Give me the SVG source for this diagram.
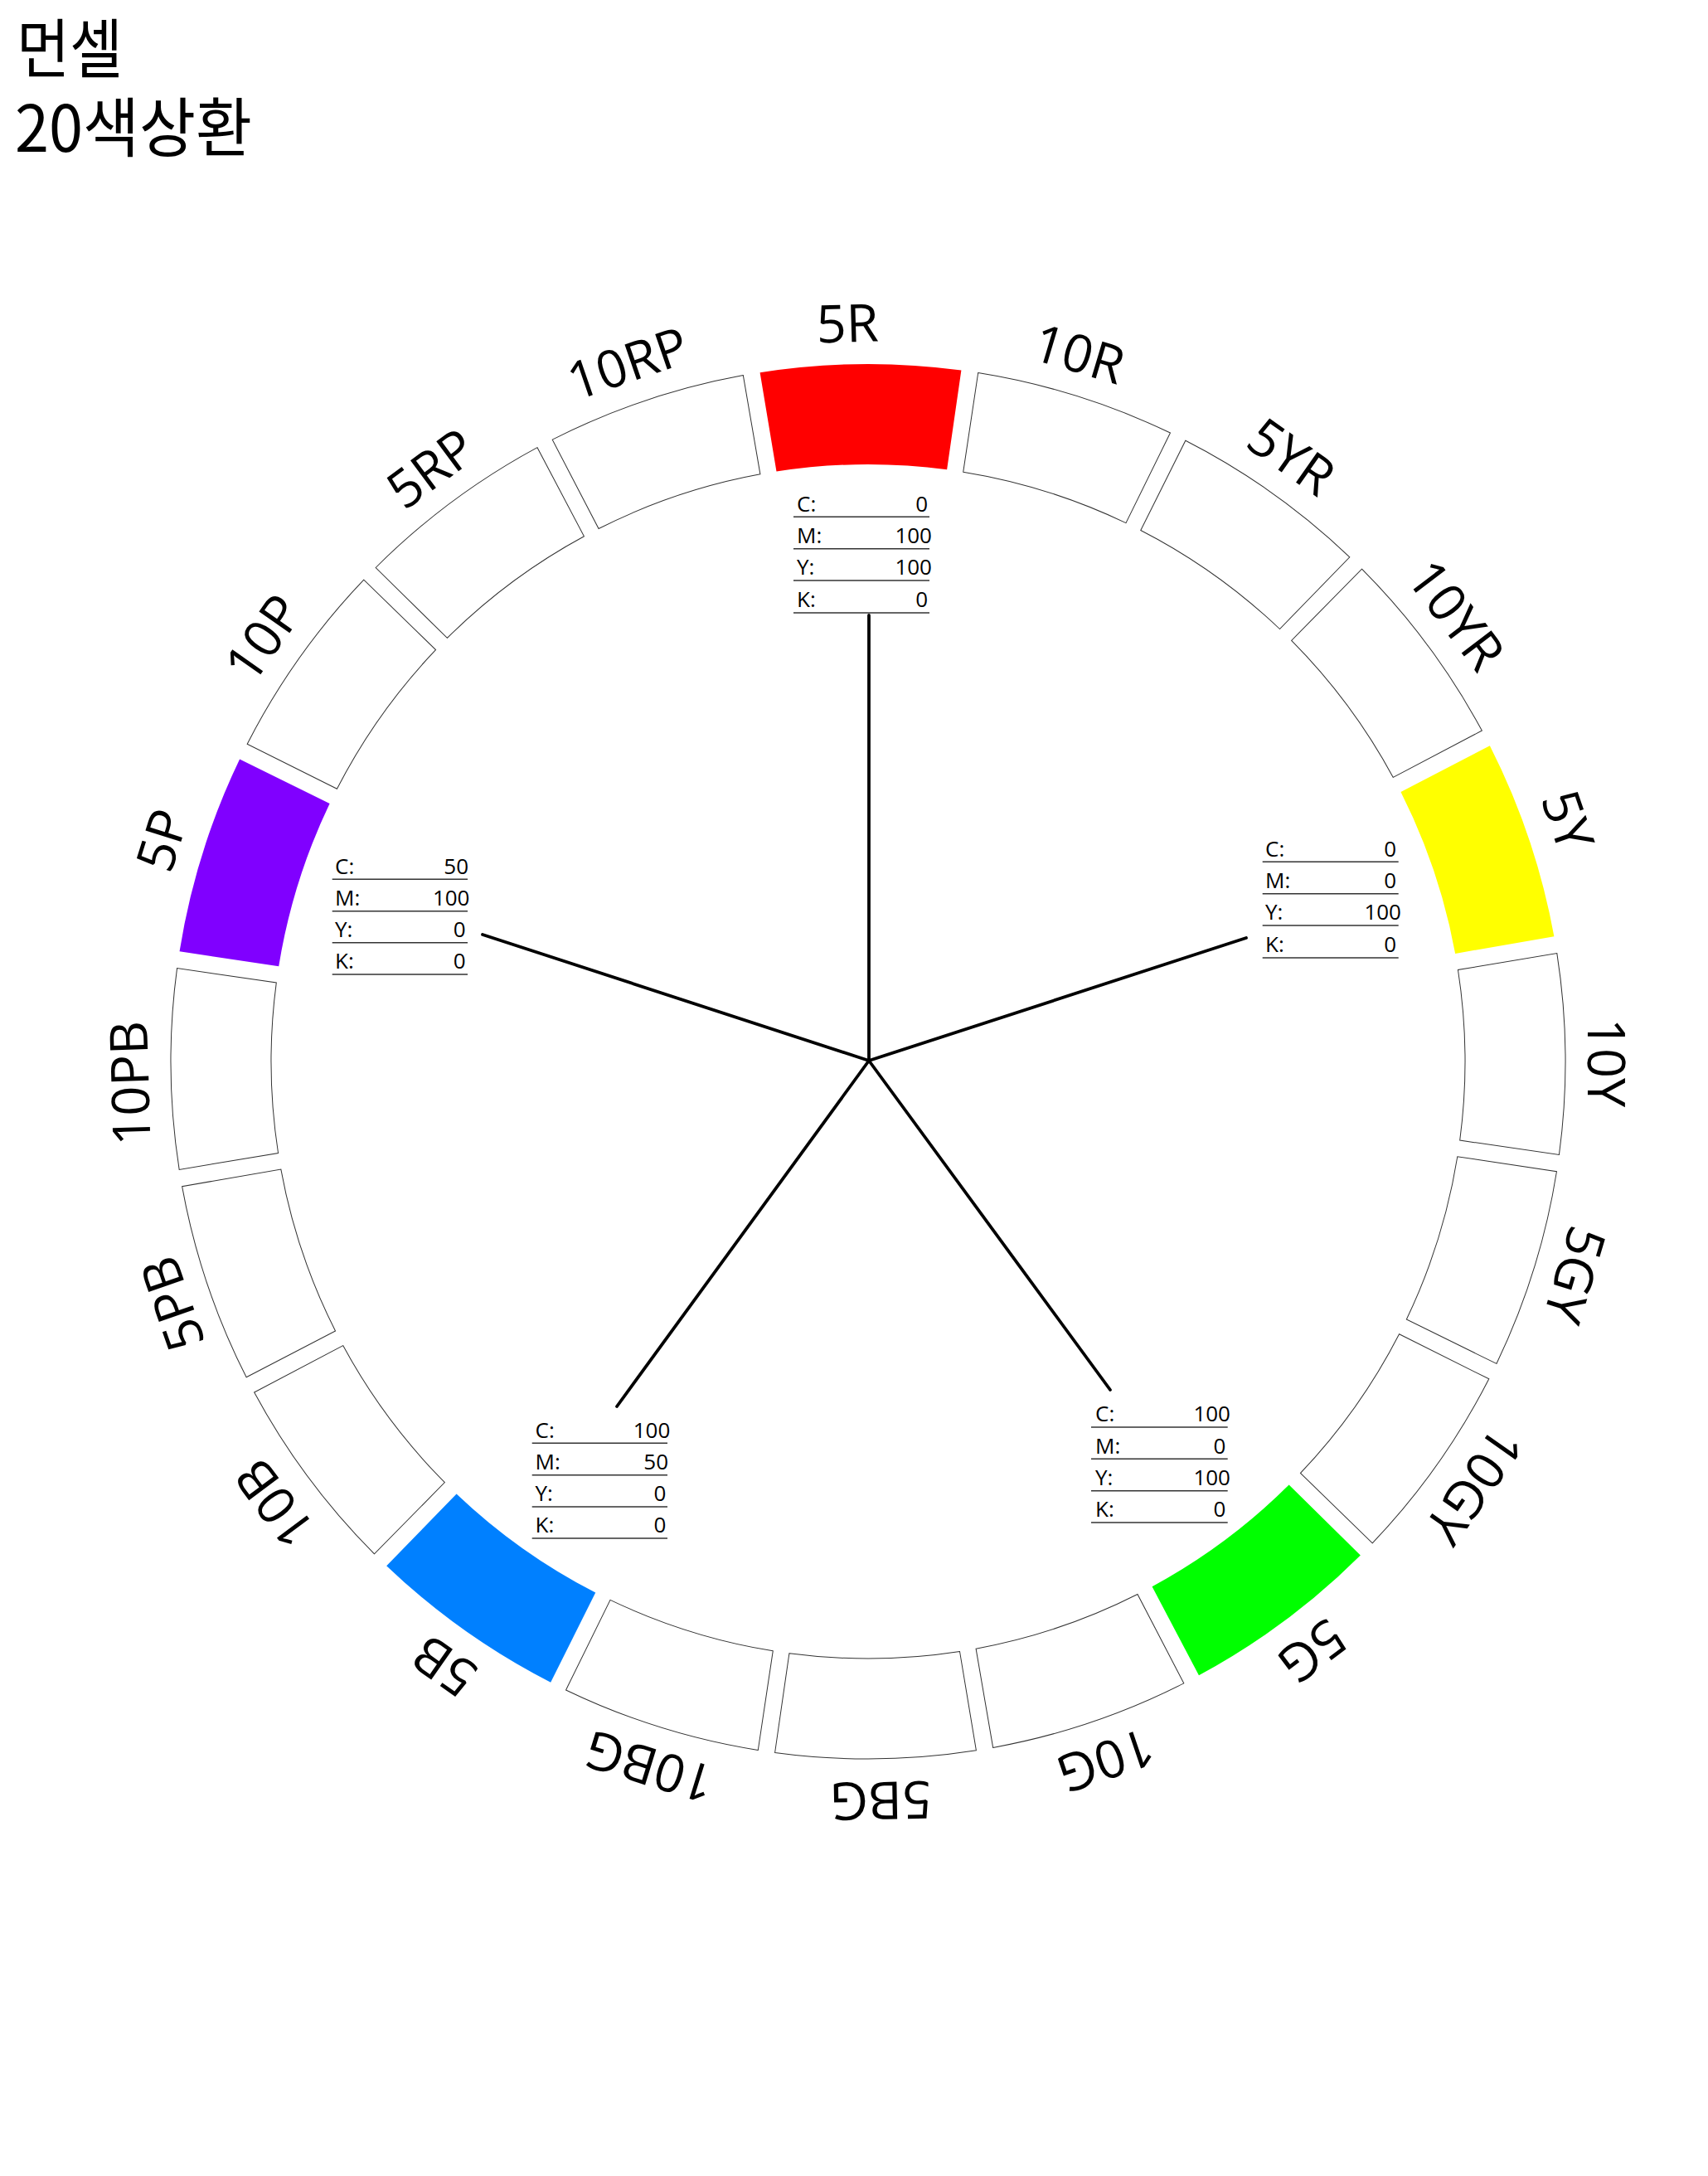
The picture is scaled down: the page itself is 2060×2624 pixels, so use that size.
<svg xmlns="http://www.w3.org/2000/svg" xmlns:xlink="http://www.w3.org/1999/xlink" width="2060" height="2624" viewBox="0 0 2060 2624">
<style>
.seg{fill:#fff;stroke:#333;stroke-width:1}
.lbl{font-family:"Open Sans","Liberation Sans",sans-serif;font-size:63px;fill:#000;text-anchor:middle}
.t{font-family:"Open Sans","Liberation Sans",sans-serif;font-size:26px;fill:#000}
.v{text-anchor:end}
.rule{stroke:#333;stroke-width:1.5}
.conn{stroke:#000;stroke-width:3.8;fill:none;stroke-linecap:round}
.title{font-family:"Noto Sans CJK KR",sans-serif;font-size:78px;fill:#000}
</style>
<defs>
<path id="segp" d="M-121.41,-832.19 A841,841 0 0 1 121.41,-832.19 L102.82,-712.62 A720,720 0 0 0 -102.82,-712.62 Z"/>
</defs>
<rect width="2060" height="2624" fill="#fff"/>
<g id="title">
<text class="title" x="20" y="88" textLength="128" lengthAdjust="spacingAndGlyphs">먼셀</text>
<text class="title" x="18" y="183" textLength="286" lengthAdjust="spacingAndGlyphs">20색상환</text>
</g>
<g id="connectors">
<line class="conn" x1="1048" y1="1279" x2="1048" y2="742"/>
<line class="conn" x1="1048" y1="1279" x2="1503" y2="1131"/>
<line class="conn" x1="1048" y1="1279" x2="1339" y2="1676"/>
<line class="conn" x1="1048" y1="1279" x2="744" y2="1696"/>
<line class="conn" x1="1048" y1="1279" x2="582" y2="1127"/>
</g>
<g id="wheel" transform="translate(1047,1280)">
<g id="n-5R"><use xlink:href="#segp" transform="rotate(-0.62)" fill="#ff0000"/><text class="lbl" transform="rotate(-1.6)" y="-868">5R</text></g>
<g id="n-10R"><use xlink:href="#segp" class="seg" transform="rotate(17.38)"/><text class="lbl" transform="rotate(16.6)" y="-868">10R</text></g>
<g id="n-5YR"><use xlink:href="#segp" class="seg" transform="rotate(35.38)"/><text class="lbl" transform="rotate(35)" y="-868">5YR</text></g>
<g id="n-10YR"><use xlink:href="#segp" class="seg" transform="rotate(53.38)"/><text class="lbl" transform="rotate(52.8)" y="-868">10YR</text></g>
<g id="n-5Y"><use xlink:href="#segp" transform="rotate(71.38)" fill="#ffff00"/><text class="lbl" transform="rotate(71)" y="-870">5Y</text></g>
<g id="n-10Y"><use xlink:href="#segp" class="seg" transform="rotate(89.38)"/><text class="lbl" transform="rotate(90.1)" y="-868">10Y</text></g>
<g id="n-5GY"><use xlink:href="#segp" class="seg" transform="rotate(107.38)"/><text class="lbl" transform="rotate(106.8)" y="-868">5GY</text></g>
<g id="n-10GY"><use xlink:href="#segp" class="seg" transform="rotate(125.38)"/><text class="lbl" transform="rotate(125)" y="-870">10GY</text></g>
<g id="n-5G"><use xlink:href="#segp" transform="rotate(143.38)" fill="#00ff00"/><text class="lbl" transform="rotate(143)" y="-868">5G</text></g>
<g id="n-10G"><use xlink:href="#segp" class="seg" transform="rotate(161.38)"/><text class="lbl" transform="rotate(161.2)" y="-868">10G</text></g>
<g id="n-5BG"><use xlink:href="#segp" class="seg" transform="rotate(179.38)"/><text class="lbl" transform="rotate(179)" y="-869">5BG</text></g>
<g id="n-10BG"><use xlink:href="#segp" class="seg" transform="rotate(197.38)"/><text class="lbl" transform="rotate(197.2)" y="-868">10BG</text></g>
<g id="n-5B"><use xlink:href="#segp" transform="rotate(215.38)" fill="#0080ff"/><text class="lbl" transform="rotate(215)" y="-868">5B</text></g>
<g id="n-10B"><use xlink:href="#segp" class="seg" transform="rotate(233.38)"/><text class="lbl" transform="rotate(233.3)" y="-870">10B</text></g>
<g id="n-5PB"><use xlink:href="#segp" class="seg" transform="rotate(251.38)"/><text class="lbl" transform="rotate(250.8)" y="-866">5PB</text></g>
<g id="n-10PB"><use xlink:href="#segp" class="seg" transform="rotate(269.38)"/><text class="lbl" transform="rotate(268.3)" y="-868">10PB</text></g>
<g id="n-5P"><use xlink:href="#segp" transform="rotate(287.38)" fill="#8000ff"/><text class="lbl" transform="rotate(287.4)" y="-870">5P</text></g>
<g id="n-10P"><use xlink:href="#segp" class="seg" transform="rotate(305.38)"/><text class="lbl" transform="rotate(305)" y="-868">10P</text></g>
<g id="n-5RP"><use xlink:href="#segp" class="seg" transform="rotate(323.38)"/><text class="lbl" transform="rotate(323.6)" y="-866">5RP</text></g>
<g id="n-10RP"><use xlink:href="#segp" class="seg" transform="rotate(341.38)"/><text class="lbl" transform="rotate(341)" y="-868">10RP</text></g>
</g>
<g id="table-5R">
<text class="t" x="961" y="616.7">C:</text><text class="t v" x="1119" y="616.7">0</text><line class="rule" x1="957" y1="623.3" x2="1121" y2="623.3"/>
<text class="t" x="961" y="655.1">M:</text><text class="t v" x="1124" y="655.1">100</text><line class="rule" x1="957" y1="661.7" x2="1121" y2="661.7"/>
<text class="t" x="961" y="693.4">Y:</text><text class="t v" x="1124" y="693.4">100</text><line class="rule" x1="957" y1="700" x2="1121" y2="700"/>
<text class="t" x="961" y="732.4">K:</text><text class="t v" x="1119" y="732.4">0</text><line class="rule" x1="957" y1="739" x2="1121" y2="739"/>
</g>
<g id="table-5Y">
<text class="t" x="1526" y="1032.7">C:</text><text class="t v" x="1684" y="1032.7">0</text><line class="rule" x1="1522.7" y1="1039.3" x2="1686.7" y2="1039.3"/>
<text class="t" x="1526" y="1071.1">M:</text><text class="t v" x="1684" y="1071.1">0</text><line class="rule" x1="1522.7" y1="1077.7" x2="1686.7" y2="1077.7"/>
<text class="t" x="1526" y="1109.4">Y:</text><text class="t v" x="1690" y="1109.4">100</text><line class="rule" x1="1522.7" y1="1116" x2="1686.7" y2="1116"/>
<text class="t" x="1526" y="1148.4">K:</text><text class="t v" x="1684" y="1148.4">0</text><line class="rule" x1="1522.7" y1="1155" x2="1686.7" y2="1155"/>
</g>
<g id="table-5P">
<text class="t" x="404" y="1053.7">C:</text><text class="t v" x="565" y="1053.7">50</text><line class="rule" x1="400.7" y1="1060.3" x2="564" y2="1060.3"/>
<text class="t" x="404" y="1092.1">M:</text><text class="t v" x="566.5" y="1092.1">100</text><line class="rule" x1="400.7" y1="1098.7" x2="564" y2="1098.7"/>
<text class="t" x="404" y="1130.1">Y:</text><text class="t v" x="561.5" y="1130.1">0</text><line class="rule" x1="400.7" y1="1136.7" x2="564" y2="1136.7"/>
<text class="t" x="404" y="1168.4">K:</text><text class="t v" x="561.5" y="1168.4">0</text><line class="rule" x1="400.7" y1="1175" x2="564" y2="1175"/>
</g>
<g id="table-5G">
<text class="t" x="1321" y="1714.4">C:</text><text class="t v" x="1484" y="1714.4">100</text><line class="rule" x1="1316" y1="1721" x2="1480.7" y2="1721"/>
<text class="t" x="1321" y="1752.7">M:</text><text class="t v" x="1478.3" y="1752.7">0</text><line class="rule" x1="1316" y1="1759.3" x2="1480.7" y2="1759.3"/>
<text class="t" x="1321" y="1791.1">Y:</text><text class="t v" x="1484" y="1791.1">100</text><line class="rule" x1="1316" y1="1797.7" x2="1480.7" y2="1797.7"/>
<text class="t" x="1321" y="1829.4">K:</text><text class="t v" x="1478.3" y="1829.4">0</text><line class="rule" x1="1316" y1="1836" x2="1480.7" y2="1836"/>
</g>
<g id="table-5B">
<text class="t" x="645.5" y="1733.7">C:</text><text class="t v" x="808.3" y="1733.7">100</text><line class="rule" x1="641.7" y1="1740.3" x2="805" y2="1740.3"/>
<text class="t" x="645.5" y="1772.1">M:</text><text class="t v" x="806" y="1772.1">50</text><line class="rule" x1="641.7" y1="1778.7" x2="805" y2="1778.7"/>
<text class="t" x="645.5" y="1810.4">Y:</text><text class="t v" x="803.3" y="1810.4">0</text><line class="rule" x1="641.7" y1="1817" x2="805" y2="1817"/>
<text class="t" x="645.5" y="1848.4">K:</text><text class="t v" x="803.3" y="1848.4">0</text><line class="rule" x1="641.7" y1="1855" x2="805" y2="1855"/>
</g>
</svg>
